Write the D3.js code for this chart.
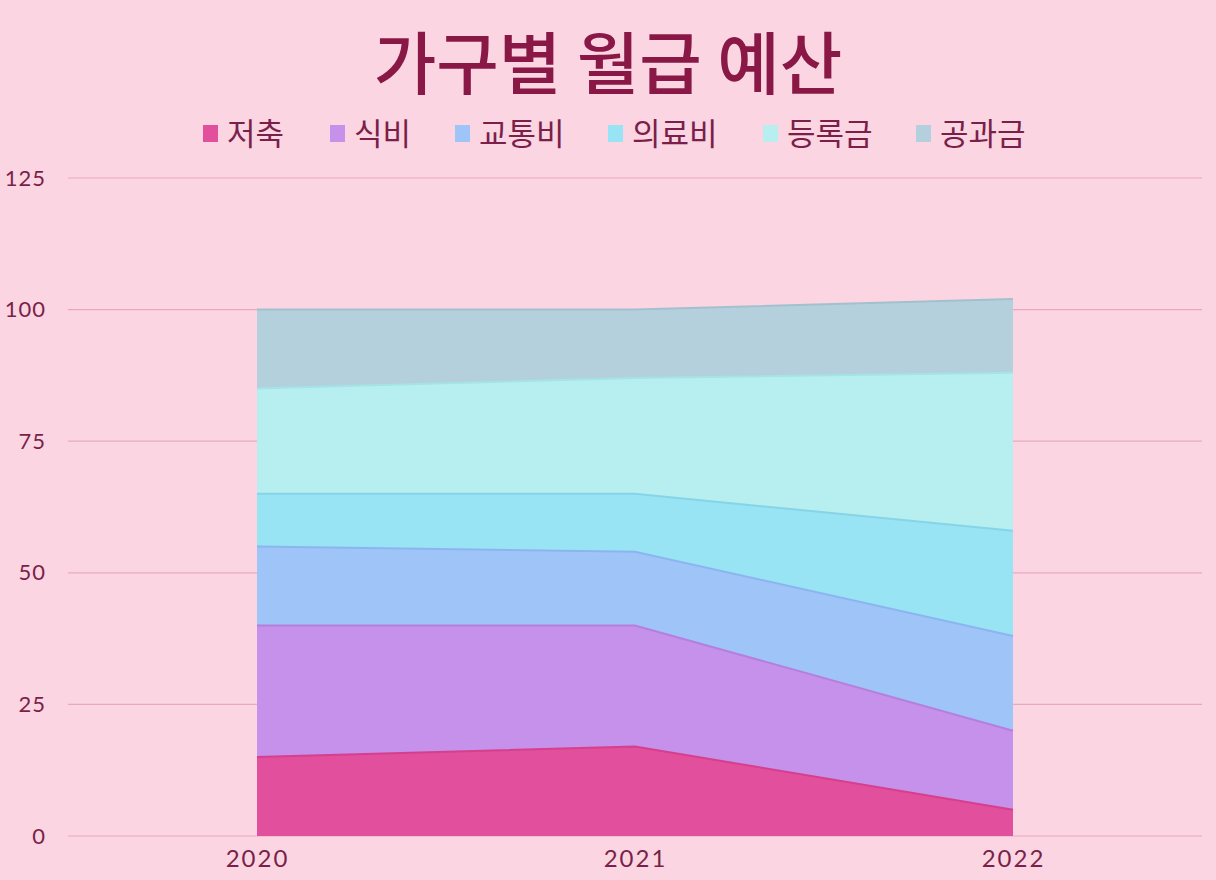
<!DOCTYPE html>
<html>
<head>
<meta charset="utf-8">
<script src="https://cdn.jsdelivr.net/npm/d3@7"></script>
<style>
  body { margin: 0; background: #fbd5e1; }
  svg { display: block; }
</style>
</head>
<body>
<svg id="chart" width="1216" height="880"></svg>
<script>
// Data
const years = ["2020", "2021", "2022"];
const seriesNames = ["저축", "식비", "교통비", "의료비", "등록금", "공과금"];
const savings = [15, 17, 5];
const food = [25, 23, 15];
const transport = [15, 14, 18];
const medical = [10, 11, 20];
const tuition = [20, 22, 30];
const utilities = [15, 13, 14];
const yTicks = [0, 25, 50, 75, 100, 125];

const colors = ["#e24f9c", "#c591ea", "#9fc5f8", "#98e3f4", "#b7eff0", "#b5d0dd"];
const strokes = ["#d63f8c", "#b67fdd", "#8cb5ef", "#86d4e8", "#a4e4e6", "#a3c0cf"];

const width = 1216, height = 880;
const margin = { top: 178, right: 14, bottom: 44, left: 68 };

const svg = d3.select("#chart");

svg.append("rect")
    .attr("width", width)
    .attr("height", height)
    .attr("fill", "#fbd5e1");

// Build table for the stack
const seriesValues = [savings, food, transport, medical, tuition, utilities];
const table = years.map((yr, i) => {
    let row = { year: yr };
    seriesNames.forEach((name, j) => row[name] = seriesValues[j][i]);
    return row;
});

const stacked = d3.stack().keys(seriesNames)(table);

// Scales
const x = d3.scalePoint()
    .domain(years)
    .range([margin.left, width - margin.right])
    .padding(0.5);

const y = d3.scaleLinear()
    .domain([0, 125])
    .range([height - margin.bottom, margin.top]);

// Gridlines
svg.append("g")
    .selectAll("line")
    .data(yTicks)
    .enter()
    .append("line")
    .attr("x1", margin.left)
    .attr("x2", width - margin.right)
    .attr("y1", d => y(d))
    .attr("y2", d => y(d))
    .attr("stroke", "#eaa8c0")
    .attr("stroke-width", 1.2);

// Y axis labels
const yAxis = svg.append("g")
    .attr("transform", `translate(${margin.left - 22},0)`)
    .call(d3.axisLeft(y).tickValues(yTicks).tickSize(0).tickPadding(0));
yAxis.select(".domain").remove();
yAxis.selectAll("text")
    .attr("font-family", "Lato, 'Noto Sans', sans-serif")
    .attr("font-size", 22)
    .attr("letter-spacing", 1)
    .attr("fill", "#7a1f4a");

// X axis labels
const xAxis = svg.append("g")
    .attr("transform", `translate(0,${height - margin.bottom + 14})`)
    .call(d3.axisBottom(x).tickSize(0).tickPadding(0));
xAxis.select(".domain").remove();
xAxis.selectAll("text")
    .attr("font-family", "Lato, 'Noto Sans', sans-serif")
    .attr("font-size", 24)
    .attr("letter-spacing", 2)
    .attr("fill", "#7a1f4a");

// Areas
const area = d3.area()
    .x(d => x(d.data.year))
    .y0(d => y(d[0]))
    .y1(d => y(d[1]));

const topLine = d3.line()
    .x(d => x(d.data.year))
    .y(d => y(d[1]));

svg.append("g")
    .selectAll("path")
    .data(stacked)
    .enter()
    .append("path")
    .attr("d", area)
    .attr("fill", (d, i) => colors[i]);

svg.append("g")
    .selectAll("path")
    .data(stacked)
    .enter()
    .append("path")
    .attr("d", topLine)
    .attr("fill", "none")
    .attr("stroke", (d, i) => strokes[i])
    .attr("stroke-width", 2);

// Title
svg.append("text")
    .attr("x", width / 2)
    .attr("y", 89)
    .attr("text-anchor", "middle")
    .attr("font-family", "'Noto Sans CJK KR', sans-serif")
    .attr("font-weight", 500)
    .attr("font-size", 68)
    .attr("fill", "#8a1846")
    .text("가구별 월급 예산");

// Legend
const legendX = [203, 330, 455, 608, 763, 916];
const legend = svg.append("g");
seriesNames.forEach((name, i) => {
    let g = legend.append("g").attr("transform", `translate(${legendX[i]},133)`);
    g.append("rect")
        .attr("x", 0)
        .attr("y", -8)
        .attr("width", 15)
        .attr("height", 17)
        .attr("fill", colors[i]);
    g.append("text")
        .attr("x", 24)
        .attr("y", 12)
        .attr("font-family", "'Noto Sans CJK KR', sans-serif")
        .attr("font-size", 31)
        .attr("fill", "#7a1f4a")
        .text(name);
});
</script>
</body>
</html>
